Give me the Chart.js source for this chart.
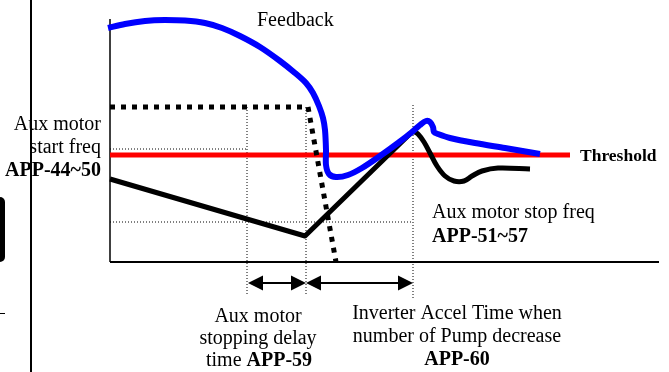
<!DOCTYPE html>
<html>
<head>
<meta charset="utf-8">
<script src="https://cdn.jsdelivr.net/npm/chart.js@4/dist/chart.umd.min.js"></script>
<style>
html,body{margin:0;padding:0;background:#fff;}
#wrap{position:relative;width:669px;height:372px;}
</style>
</head>
<body>
<div id="wrap"><canvas id="c"></canvas></div>
<script>
// x = time (0..110), y = level (0..121)
const fbT = [-0.4,3,7,11,15,19,22.4,26,30,34,37,39.2,40.6,41.8,42.6,43,43.2,43.2,43.8,45.2,47.6,50.4,54,57.6,60.4,62,63.2,64,64.6,64.8,65.6,68,73,79,86];
const fbV = [117,119,120.5,121,120.75,119.5,117,113,107.5,100.5,94.5,89.5,84.5,78,72,66,56,48.5,44,42.5,43.5,47,53,59.5,65,68.5,70.5,70,67.5,65,64,62,59.5,57,54];

const motT = [0,39,60.6];
const motV = [41.5,13,65.5];
const settleT = [60.6,61.6,62.8,64,65.4,67,68.8,70.8,72.4,74.4,77.6,84];
const settleV = [65.5,64,60,54.5,48,43,40.5,40.5,43,45.5,47,46.5];

const auxT = [0,39.6,45.2];
const auxV = [77.5,77.5,0];

const threshold = 53.5;
const thresholdEnd = 92;

// dotted guide lines [x1,y1,x2,y2]
const guides = [
  [0,56.5,27.4,56.5],
  [27.4,77.5,27.4,-17],
  [39.2,77.5,39.2,-17],
  [60.6,78.5,60.6,-18],
  [0,20,60.6,20]
];
// double arrows [from,to] at level arrowY
const arrows = [[27.6,39.2],[39.2,60.6]];
const arrowY = -10.5;

const pts = (xs,ys)=>xs.map((x,i)=>({x,y:ys[i]}));
const guideData = [];
guides.forEach(g=>{guideData.push({x:g[0],y:g[1]},{x:g[2],y:g[3]},{x:g[2],y:null});});

const SERIF = '"Liberation Serif","Times New Roman",serif';

const decor = {
  id:'decor',
  beforeDatasetsDraw(chart){
    const ctx=chart.ctx, a=chart.chartArea;
    ctx.save();
    // page fragments on the left
    ctx.strokeStyle='#000';
    ctx.lineWidth=2;
    ctx.beginPath();ctx.moveTo(31,0);ctx.lineTo(31,372);ctx.stroke();
    ctx.fillStyle='#000';
    ctx.beginPath();
    ctx.moveTo(-5,197);ctx.lineTo(0,197);ctx.arcTo(5,197,5,202,5);
    ctx.lineTo(5,257);ctx.arcTo(5,262,0,262,5);ctx.lineTo(-5,262);ctx.closePath();ctx.fill();
    ctx.lineWidth=1;
    ctx.beginPath();ctx.moveTo(0,313.5);ctx.lineTo(5,313.5);ctx.stroke();
    // axes
    ctx.lineWidth=1.5;
    ctx.beginPath();ctx.moveTo(a.left,a.top-1);ctx.lineTo(a.left,a.bottom);ctx.stroke();
    ctx.lineWidth=2;
    ctx.beginPath();ctx.moveTo(a.left,a.bottom);ctx.lineTo(a.right-1,a.bottom);ctx.stroke();
    ctx.restore();
  },
  afterDatasetsDraw(chart){
    const ctx=chart.ctx, xs=chart.scales.x, ys=chart.scales.y;
    ctx.save();
    ctx.fillStyle='#000';ctx.strokeStyle='#000';
    const yp=ys.getPixelForValue(arrowY);
    arrows.forEach(([f,t])=>{
      const x1=xs.getPixelForValue(f), x2=xs.getPixelForValue(t);
      ctx.lineWidth=2;
      ctx.beginPath();ctx.moveTo(x1+10,yp);ctx.lineTo(x2-10,yp);ctx.stroke();
      ctx.beginPath();ctx.moveTo(x1,yp);ctx.lineTo(x1+15,yp-7.5);ctx.lineTo(x1+15,yp+7.5);ctx.closePath();ctx.fill();
      ctx.beginPath();ctx.moveTo(x2,yp);ctx.lineTo(x2-15,yp-7.5);ctx.lineTo(x2-15,yp+7.5);ctx.closePath();ctx.fill();
    });
    ctx.textBaseline='alphabetic';
    const txt=(s,x,y,align,bold,size)=>{
      ctx.font=(bold?'bold ':'')+(size||20)+'px '+SERIF;
      ctx.textAlign=align;ctx.fillText(s,x,y);
    };
    txt('Feedback',257,26,'left');
    txt('Aux motor',101,130,'right');
    txt('start freq',101,153,'right');
    txt('APP-44~50',101,176,'right',true);
    txt('Threshold',580,161,'left',true,17.5);
    txt('Aux motor stop freq',432,218,'left');
    txt('APP-51~57',432,242,'left',true);
    txt('Aux motor',258,322,'center');
    txt('stopping delay',258,344,'center');
    ctx.font='20px '+SERIF;
    const w1=ctx.measureText('time ').width;
    ctx.font='bold 20px '+SERIF;
    const w2=ctx.measureText('APP-59').width;
    const sx=259-(w1+w2)/2;
    txt('time ',sx,366,'left');
    txt('APP-59',sx+w1,366,'left',true);
    txt('Inverter Accel Time when',457,319,'center');
    txt('number of Pump decrease',457,342,'center');
    txt('APP-60',457,365,'center',true);
    ctx.restore();
  }
};

new Chart(document.getElementById('c'),{
  type:'line',
  data:{datasets:[
    {data:pts(fbT,fbV),borderColor:'#0000ff',borderWidth:6,tension:0.3,borderJoinStyle:'round'},
    {data:pts(auxT,auxV),borderColor:'#000',borderWidth:5,borderDash:[5,6],borderCapStyle:'butt',tension:0},
    {data:pts(motT,motV),borderColor:'#000',borderWidth:5,tension:0,borderJoinStyle:'round'},
    {data:pts(settleT,settleV),borderColor:'#000',borderWidth:5,tension:0.35,borderJoinStyle:'round'},
    {data:[{x:0,y:threshold},{x:thresholdEnd,y:threshold}],borderColor:'#ff0000',borderWidth:5,tension:0},
    {data:guideData,borderColor:'#000',borderWidth:1,borderDash:[1,2],spanGaps:false,tension:0}
  ]},
  options:{
    responsive:true,maintainAspectRatio:false,animation:false,events:[],
    layout:{padding:{left:110,right:9,top:20,bottom:110}},
    datasets:{line:{clip:false,pointRadius:0,fill:false}},
    plugins:{legend:{display:false},tooltip:{enabled:false}},
    scales:{
      x:{type:'linear',min:0,max:110,display:false},
      y:{type:'linear',min:0,max:121,display:false}
    }
  },
  plugins:[decor]
});
</script>
</body>
</html>
